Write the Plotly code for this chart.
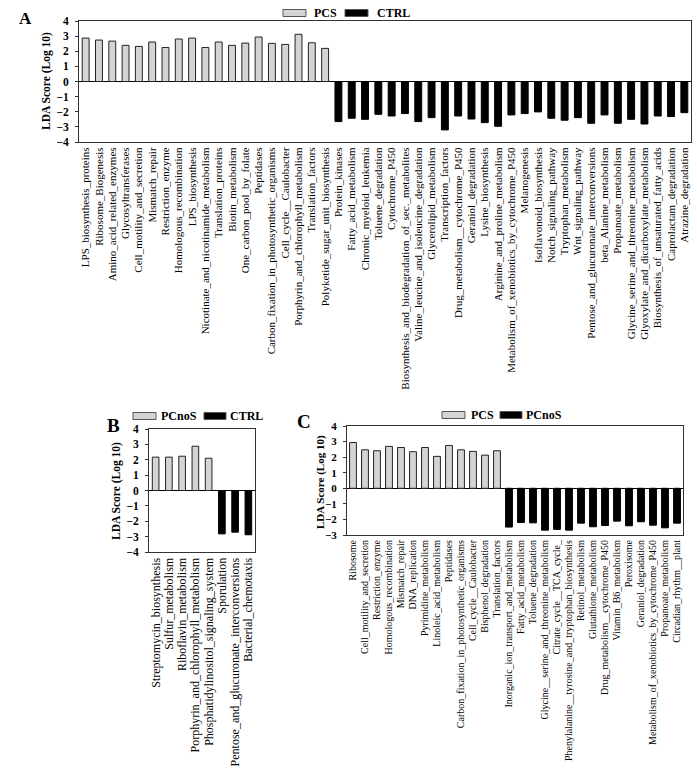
import plotly.graph_objects as go

# ---------------- Panel A data ----------------
a_pos_labels = [
    "LPS_biosynthesis_proteins", "Ribosome_Biogenesis", "Amino_acid_related_enzymes",
    "Glycosyltransferases", "Cell_motility_and_secretion", "Mismatch_repair",
    "Restriction_enzyme", "Homologous_recombination", "LPS_biosynthesis",
    "Nicotinate_and_nicotinamide_metabolism", "Translation_proteins", "Biotin_metabolism",
    "One_carbon_pool_by_folate", "Peptidases", "Carbon_fixation_in_photosynthetic_organisms",
    "Cell_cycle__Caulobacter", "Porphyrin_and_chlorophyll_metabolism", "Translation_factors",
    "Polyketide_sugar_unit_biosynthesis",
]
a_pos_values = [2.87, 2.74, 2.67, 2.39, 2.32, 2.61, 2.25, 2.81, 2.87, 2.25,
                2.61, 2.39, 2.54, 2.94, 2.52, 2.45, 3.12, 2.56, 2.19]
a_neg_labels = [
    "Protein_kinases", "Fatty_acid_metabolism", "Chronic_myeloid_leukemia",
    "Toluene_degradation", "Cytochrome_P450", "Biosynthesis_and_biodegradation_of_sec._metabolites",
    "Valine_leucine_and_isoleucine_degradation", "Glycerolipid_metabolism", "Transcription_factors",
    "Drug_metabolism__cytochrome_P450", "Geraniol_degradation", "Lysine_biosynthesis",
    "Arginine_and_proline_metabolism", "Metabolism_of_xenobiotics_by_cytochrome_P450",
    "Melanogenesis", "Isoflavonoid_biosynthesis", "Notch_signaling_pathway",
    "Tryptophan_metabolism", "Wnt_signaling_pathway", "Pentose_and_glucuronate_interconversions",
    "beta_Alanine_metabolism", "Propanoate_metabolism", "Glycine_serine_and_threonine_metabolism",
    "Glyoxylate_and_dicarboxylate_metabolism", "Biosynthesis_of_unsaturated_fatty_acids",
    "Caprolactam_degradation", "Atrazine_degradation",
]
a_neg_values = [-2.65, -2.43, -2.50, -2.17, -2.28, -2.12, -2.65, -2.39, -3.20, -2.28,
                -2.48, -2.72, -2.96, -2.21, -2.12, -2.01, -2.43, -2.56, -2.39, -2.76,
                -2.21, -2.76, -2.50, -2.81, -2.28, -2.32, -2.06]

# ---------------- Panel B data ----------------
b_pos_labels = ["Streptomycin_biosynthesis", "Sulfur_metabolism", "Riboflavin_metabolism",
                "Porphyrin_and_chlorophyll_metabolism", "Phosphatidylinositol_signaling_system"]
b_pos_values = [2.17, 2.17, 2.23, 2.88, 2.10]
b_neg_labels = ["Sporulation", "Pentose_and_glucuronate_interconversions", "Bacterial_chemotaxis"]
b_neg_values = [-2.82, -2.71, -2.88]

# ---------------- Panel C data ----------------
c_pos_labels = [
    "Ribosome", "Cell_motility_and_secretion", "Restriction_enzyme", "Homologous_recombination",
    "Mismatch_repair", "DNA_replication", "Pyrimidine_metabolism", "Linoleic_acid_metabolism",
    "Peptidases", "Carbon_fixation_in_photosynthetic_organisms", "Cell_cycle__Caulobacter",
    "Bisphenol_degradation", "Translation_factors",
]
c_pos_values = [2.94, 2.47, 2.41, 2.69, 2.62, 2.35, 2.62, 2.05, 2.75, 2.47, 2.37, 2.13, 2.41]
c_neg_labels = [
    "Inorganic_ion_transport_and_metabolism", "Fatty_acid_metabolism", "Toluene_degradation",
    "Glycine__serine_and_threonine_metabolism", "Citrate_cycle__TCA_cycle_",
    "Phenylalanine__tyrosine_and_tryptophan_biosynthesis", "Retinol_metabolism",
    "Glutathione_metabolism", "Drug_metabolism__cytochrome_P450", "Vitamin_B6_metabolism",
    "Peroxisome", "Geraniol_degradation", "Metabolism_of_xenobiotics_by_cytochrome_P450",
    "Propanoate_metabolism", "Circadian_rhythm__plant",
]
c_neg_values = [-2.49, -2.20, -2.22, -2.69, -2.64, -2.69, -2.24, -2.47, -2.39, -2.11,
                -2.41, -2.15, -2.37, -2.54, -2.24]

legend_a = ["PCS", "CTRL"]
legend_b = ["PCnoS", "CTRL"]
legend_c = ["PCS", "PCnoS"]
y_title = "LDA Score (Log 10)"

W, H = 697, 770
SERIF = "Liberation Serif, Times New Roman, serif"
LIGHT = "#d4d4d4"


def px(x):
    return x / W


def py(y):
    return 1 - y / H


fig = go.Figure()

panels = [
    ("x", "y", a_pos_labels, a_pos_values, a_neg_labels, a_neg_values, legend_a, 0.52),
    ("x2", "y2", b_pos_labels, b_pos_values, b_neg_labels, b_neg_values, legend_b, 0.5),
    ("x3", "y3", c_pos_labels, c_pos_values, c_neg_labels, c_neg_values, legend_c, 0.57),
]
for xa, ya, pl, pv, nl, nv, names, bw in panels:
    fig.add_trace(go.Bar(x=pl, y=pv, xaxis=xa, yaxis=ya, name=names[0], width=bw,
                         marker=dict(color=LIGHT, line=dict(color="#222222", width=1)),
                         showlegend=False))
    fig.add_trace(go.Bar(x=nl, y=nv, xaxis=xa, yaxis=ya, name=names[1], width=bw,
                         marker=dict(color="black", line=dict(color="black", width=1)),
                         showlegend=False))


def xcfg(domain, anchor, cats, size):
    return dict(domain=domain, anchor=anchor, type="category",
                categoryorder="array", categoryarray=cats,
                range=[-0.5, len(cats) - 0.5],
                tickmode="linear", tick0=0, dtick=1,
                tickangle=-90, ticks="", automargin=False,
                tickfont=dict(family=SERIF, size=size, color="black"),
                showline=True, linecolor="#333333", linewidth=1, mirror=True,
                showgrid=False, zeroline=False)


def ycfg(domain, anchor, rng, size):
    return dict(domain=domain, anchor=anchor, range=rng, dtick=1, tick0=0,
                ticks="outside", ticklen=3, tickcolor="#333333", automargin=False,
                ticklabelstandoff=4,
                tickfont=dict(family=SERIF, size=size, color="black", weight="bold"),
                showline=True, linecolor="#333333", linewidth=1, mirror=True,
                showgrid=False, zeroline=True, zerolinecolor="black", zerolinewidth=1)


a_cats = a_pos_labels + a_neg_labels
b_cats = b_pos_labels + b_neg_labels
c_cats = c_pos_labels + c_neg_labels

fig.update_layout(
    width=W, height=H, template="none",
    margin=dict(l=0, r=0, t=0, b=0),
    paper_bgcolor="white", plot_bgcolor="white",
    barmode="overlay", showlegend=False,
    font=dict(family=SERIF, color="black"),
    xaxis=xcfg([px(79), px(691)], "y", a_cats, 11),
    yaxis=ycfg([py(142), py(21)], "x", [-4, 4], 11.5),
    xaxis2=xcfg([px(149), px(255)], "y2", b_cats, 12),
    yaxis2=ycfg([py(552), py(429)], "x2", [-4, 4], 11.5),
    xaxis3=xcfg([px(347), px(683)], "y3", c_cats, 10),
    yaxis3=ycfg([py(535), py(426)], "x3", [-3, 4], 11),
)

annotations = []
shapes = []

# panel letters
for txt, x, y, s in [("A", 25, 18, 17), ("B", 114, 425, 19), ("C", 304, 421, 19)]:
    annotations.append(dict(text=txt, x=px(x), y=py(y), xref="paper", yref="paper",
                            showarrow=False, xanchor="center", yanchor="middle",
                            font=dict(family=SERIF, size=s, color="black", weight="bold")))

# y-axis titles
for x, y, s in [(47, 81, 11.5), (116, 491, 11.5), (320, 482, 11)]:
    annotations.append(dict(text=y_title, x=px(x), y=py(y), xref="paper", yref="paper",
                            showarrow=False, textangle=-90, xanchor="center", yanchor="middle",
                            font=dict(family=SERIF, size=s, color="black", weight="bold")))

# legends: (box_x0, box_x1, y_center, text_x, label, fill)
legend_items = [
    (283, 306, 13, 312, legend_a[0], LIGHT),
    (345, 368, 13, 375, legend_a[1], "black"),
    (133, 156, 416, 159, legend_b[0], LIGHT),
    (204, 226, 416, 228, legend_b[1], "black"),
    (442, 465, 415, 469, legend_c[0], LIGHT),
    (500, 522, 415, 524, legend_c[1], "black"),
]
for x0, x1, yc, tx, label, fill in legend_items:
    shapes.append(dict(type="rect", xref="paper", yref="paper",
                       x0=px(x0), x1=px(x1), y0=py(yc + 3.5), y1=py(yc - 3.5),
                       fillcolor=fill, line=dict(color="#555555", width=1)))
    annotations.append(dict(text=label, x=px(tx), y=py(yc), xref="paper", yref="paper",
                            showarrow=False, xanchor="left", yanchor="middle",
                            font=dict(family=SERIF, size=12, color="black", weight="bold")))

fig.update_layout(annotations=annotations, shapes=shapes)

fig.write_html("out.html",
               config={"displayModeBar": False},
               post_script="document.body.style.margin='0';document.body.style.padding='0';"
                           "document.body.style.overflow='hidden';")
